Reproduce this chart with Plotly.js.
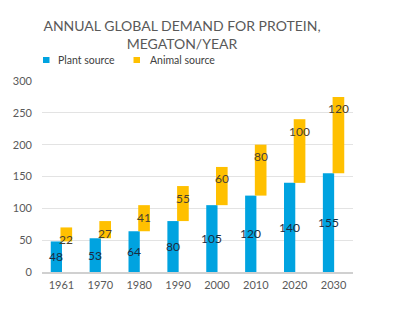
<!DOCTYPE html>
<html><head><meta charset="utf-8">
<script src="https://cdn.plot.ly/plotly-3.0.1.min.js"></script>
<style>html,body{margin:0;padding:0;background:#fff}#chart{width:400px;height:332px}</style>
</head><body><div id="chart"></div>
<script>
const years = ['1961','1970','1980','1990','2000','2010','2020','2030'];
const plantSource = [48, 53, 64, 80, 105, 120, 140, 155];
const animalSource = [22, 27, 41, 55, 60, 80, 100, 120];
const seriesNames = ['Plant source', 'Animal source'];
const yTicks = [0, 50, 100, 150, 200, 250, 300];

const BLUE = '#00A3E0', YELLOW = '#FFC000';
const FONT = 'Lato, "Open Sans", sans-serif';

// plot area in pixels
const L = 42, R = 47, T = 81, B = 60, W = 400, H = 332;
const PW = W - L - R, PH = H - T - B;
const px = x => (x - L) / PW;
const py = y => (H - B - y) / PH;

const plant = {
  type: 'bar', name: seriesNames[0], x: years, y: plantSource,
  width: 0.29, offset: -0.275, marker: {color: BLUE}, showlegend: false,
  hoverinfo: 'x+y'
};
const animal = {
  type: 'bar', name: seriesNames[1], x: years, y: animalSource, base: plantSource,
  width: 0.3, offset: -0.025, marker: {color: YELLOW}, showlegend: false,
  hoverinfo: 'x+y'
};

const annotations = [];
years.forEach((yr, i) => {
  annotations.push({x: i, y: plantSource[i] / 2, xref: 'x', yref: 'y', text: String(plantSource[i]),
    showarrow: false, xshift: -5, font: {family: FONT, size: 12, color: '#1B2B40'}});
  annotations.push({x: i, y: plantSource[i] + animalSource[i], xref: 'x', yref: 'y', text: String(animalSource[i]),
    showarrow: false, xshift: 5, yshift: -12, font: {family: FONT, size: 12, color: '#4a4030'}});
});
// legend
annotations.push({x: px(56), y: py(60), xref: 'paper', yref: 'paper', text: seriesNames[0], showarrow: false,
  xanchor: 'left', yanchor: 'middle', font: {family: FONT, size: 10.5, color: '#404040'}});
annotations.push({x: px(148), y: py(60), xref: 'paper', yref: 'paper', text: seriesNames[1], showarrow: false,
  xanchor: 'left', yanchor: 'middle', font: {family: FONT, size: 10.5, color: '#404040'}});

const shapes = [
  {type: 'rect', xref: 'paper', yref: 'paper', x0: px(43), x1: px(49.5), y0: py(63), y1: py(57), fillcolor: BLUE, line: {width: 0}},
  {type: 'rect', xref: 'paper', yref: 'paper', x0: px(133.5), x1: px(140), y0: py(63), y1: py(57), fillcolor: YELLOW, line: {width: 0}}
];

const layout = {
  width: W, height: H,
  margin: {l: L, r: R, t: T, b: B, pad: 0},
  paper_bgcolor: '#fff', plot_bgcolor: '#fff',
  barmode: 'overlay',
  showlegend: false,
  title: {text: 'ANNUAL GLOBAL DEMAND FOR PROTEIN,<br>MEGATON/YEAR', x: 182/400, xanchor: 'center',
    y: 1 - 31/332, yanchor: 'top', font: {family: FONT, size: 14, color: '#595959'}},
  xaxis: {type: 'category', range: [-0.5, 7.5], showgrid: false, showline: true, linecolor: '#D0D0D0', linewidth: 1.5,
    ticks: '', tickfont: {family: FONT, size: 11, color: '#595959'}, ticklabelstandoff: 2, fixedrange: true},
  yaxis: {range: [0, 300], tickvals: yTicks, showgrid: true, gridcolor: '#E3E3E3', gridwidth: 1,
    zeroline: false, showline: false, ticks: '', tickfont: {family: FONT, size: 11, color: '#595959'},
    ticklabelstandoff: 9, fixedrange: true},
  annotations: annotations,
  shapes: shapes
};

Plotly.newPlot('chart', [plant, animal], layout, {displayModeBar: false, staticPlot: true});
</script></body></html>
